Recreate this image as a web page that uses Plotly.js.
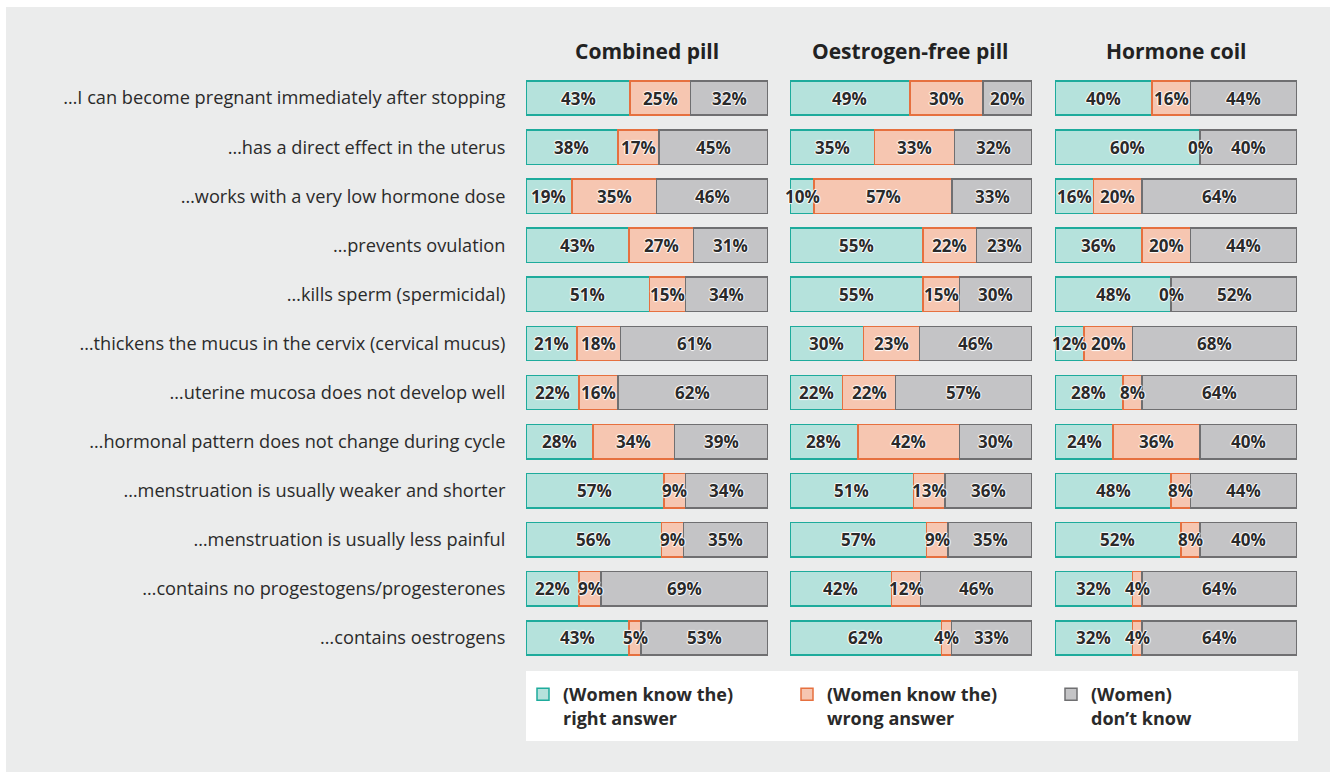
<!DOCTYPE html>
<html>
<head>
<meta charset="utf-8">
<script src="https://cdn.plot.ly/plotly-3.0.1.min.js"></script>
<style>html,body{margin:0;padding:0;background:#fff;}#chart{width:1330px;height:772px;}</style>
</head>
<body>
<div id="chart"></div>
<script>
const statements = [
  "…I can become pregnant immediately after stopping",
  "…has a direct effect in the uterus",
  "…works with a very low hormone dose",
  "…prevents ovulation",
  "…kills sperm (spermicidal)",
  "…thickens the mucus in the cervix (cervical mucus)",
  "…uterine mucosa does not develop well",
  "…hormonal pattern does not change during cycle",
  "…menstruation is usually weaker and shorter",
  "…menstruation is usually less painful",
  "…contains no progestogens/progesterones",
  "…contains oestrogens"
];
const methods = ["Combined pill", "Oestrogen-free pill", "Hormone coil"];
const seriesNames = ["<b>(Women know the)<br>right answer</b>", "<b>(Women know the)<br>wrong answer</b>", "<b>(Women)<br>don’t know</b>"];

const combinedRight = [43,38,19,43,51,21,22,28,57,56,22,43];
const combinedWrong = [25,17,35,27,15,18,16,34,9,9,9,5];
const combinedDontKnow = [32,45,46,31,34,61,62,39,34,35,69,53];

const oestrogenFreeRight = [49,35,10,55,55,30,22,28,51,57,42,62];
const oestrogenFreeWrong = [30,33,57,22,15,23,22,42,13,9,12,4];
const oestrogenFreeDontKnow = [20,32,33,23,30,46,57,30,36,35,46,33];

const coilRight = [40,60,16,36,48,12,28,24,48,52,32,32];
const coilWrong = [16,0,20,20,0,20,8,36,8,8,4,4];
const coilDontKnow = [44,40,64,44,52,68,64,40,44,40,64,64];

const panelData = [
  [combinedRight, combinedWrong, combinedDontKnow],
  [oestrogenFreeRight, oestrogenFreeWrong, oestrogenFreeDontKnow],
  [coilRight, coilWrong, coilDontKnow]
];

const fills = ["#b5e2dc", "#f6c6b1", "#c4c4c6"];
const borders = ["#1eab9c", "#e6703f", "#6f6f71"];

const W = 1330, H = 772;
const fx = px => px / W;
const fy = py => 1 - py / H;
const panelX = [[526, 768], [790, 1032], [1055, 1297]];
const yDomain = [fy(662.5), fy(73.5)];
const FONT = "Open Sans, Noto Sans, sans-serif";
const HALO = "1px 0 1px #fff, -1px 0 1px #fff, 0 1px 1px #fff, 0 -1px 1px #fff";

const traces = [];
const annotations = [];
panelData.forEach((series, p) => {
  const xa = p === 0 ? "x" : "x" + (p + 1);
  const ya = p === 0 ? "y" : "y" + (p + 1);
  series.forEach((vals, s) => {
    traces.push({
      type: "bar",
      orientation: "h",
      name: seriesNames[s],
      legendgroup: "s" + s,
      showlegend: p === 0,
      x: vals,
      y: statements,
      xaxis: xa,
      yaxis: ya,
      marker: {color: fills[s], line: {color: borders[s], width: 1.5}},
      hoverinfo: "x+y+name"
    });
  });
  statements.forEach((st, r) => {
    const total = series.reduce((a, v) => a + v[r], 0);
    let cum = 0;
    series.forEach((vals, s) => {
      const v = vals[r];
      const mid = (cum + v / 2) / total * 100;
      cum += v;
      annotations.push({
        xref: xa, yref: ya, x: mid, y: st,
        text: "<b>" + v + "%</b>", showarrow: false,
        font: {family: FONT, size: 17, color: "#2a2a2a", shadow: HALO},
        xanchor: "center", yanchor: "middle"
      });
    });
  });
  annotations.push({
    xref: "paper", yref: "paper",
    x: fx((panelX[p][0] + panelX[p][1]) / 2), y: fy(51),
    text: "<b>" + methods[p] + "</b>", showarrow: false,
    font: {family: FONT, size: 21, color: "#222"},
    xanchor: "center", yanchor: "middle"
  });
});

const layout = {
  width: W, height: H,
  margin: {l: 0, r: 0, t: 0, b: 0, pad: 0},
  paper_bgcolor: "#ffffff",
  plot_bgcolor: "rgba(0,0,0,0)",
  barmode: "stack",
  barnorm: "percent",
  bargap: 0.3,
  showlegend: true,
  legend: {
    orientation: "h",
    x: fx(523), y: fy(676), xanchor: "left", yanchor: "top",
    bgcolor: "rgba(0,0,0,0)",
    entrywidth: 219, entrywidthmode: "pixels",
    valign: "top",
    traceorder: "normal",
    font: {family: FONT, size: 18, color: "#2a2a2a"},
    itemclick: false, itemdoubleclick: false
  },
  annotations: annotations,
  shapes: [
    {type: "rect", xref: "paper", yref: "paper", x0: fx(6), x1: 1, y0: 0, y1: fy(7),
     fillcolor: "#ebecec", line: {width: 0}, layer: "below"},
    {type: "rect", xref: "paper", yref: "paper", x0: fx(526), x1: fx(1298), y0: fy(741), y1: fy(671),
     fillcolor: "#ffffff", line: {width: 0}, layer: "below"}
  ],
  font: {family: FONT, size: 16, color: "#2a2a2a"}
};

panelX.forEach((px, p) => {
  const k = p === 0 ? "" : String(p + 1);
  layout["xaxis" + k] = {
    domain: [fx(px[0]), fx(px[1])], range: [0, 100], anchor: "y" + k,
    showgrid: false, zeroline: false, showticklabels: false, showline: false, fixedrange: true
  };
  layout["yaxis" + k] = {
    domain: yDomain, anchor: "x" + k, autorange: "reversed",
    type: "category", categoryorder: "array", categoryarray: statements,
    showgrid: false, zeroline: false, showline: false, fixedrange: true,
    showticklabels: p === 0,
    ticks: p === 0 ? "outside" : "", ticklen: 16, tickcolor: "rgba(0,0,0,0)",
    tickfont: {family: FONT, size: 18.2, color: "#2a2a2a"}
  };
});

Plotly.newPlot("chart", traces, layout, {displayModeBar: false});
</script>
</body>
</html>
